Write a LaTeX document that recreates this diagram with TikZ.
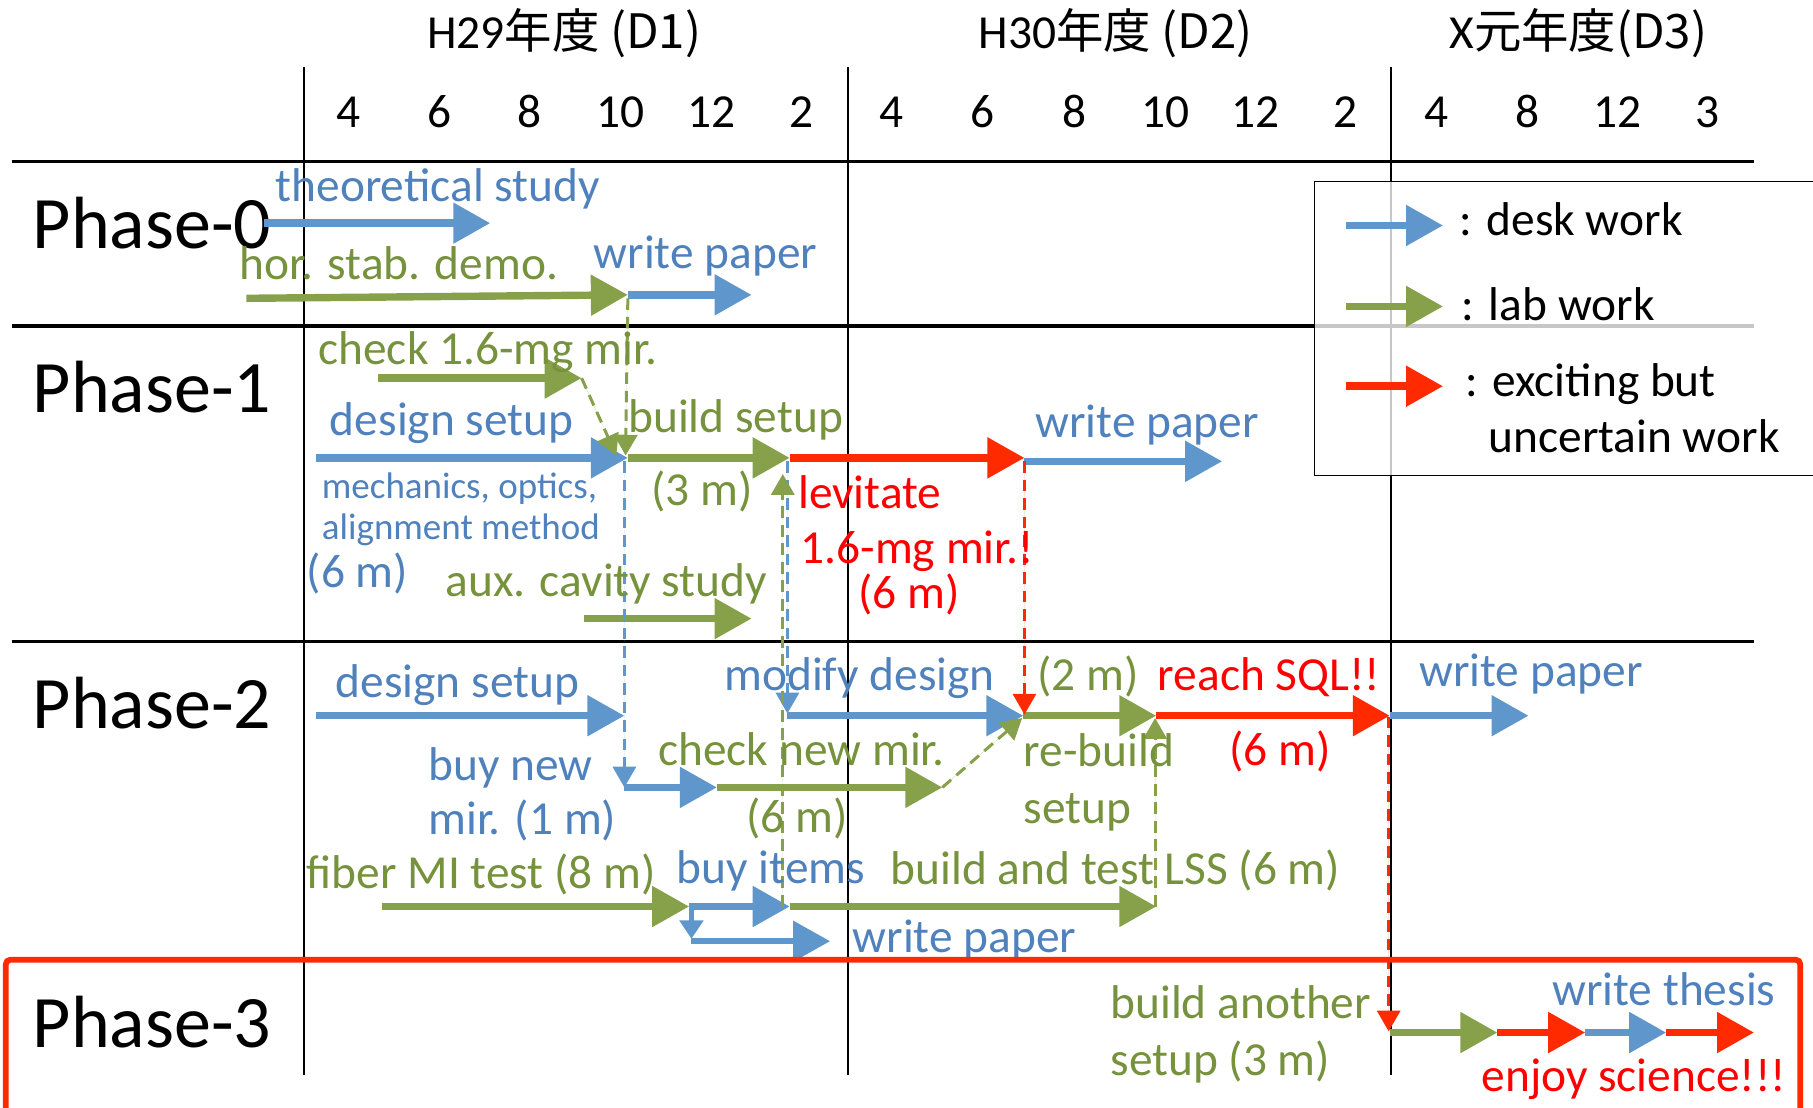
\documentclass[tikz,border=0pt]{standalone}
\usepackage{fontspec}
\setmainfont{Carlito}
\newfontfamily\jpfont{Noto Sans CJK JP}
\usetikzlibrary{arrows.meta}

\definecolor{deskblue}{HTML}{5F96CB}
\definecolor{desktext}{HTML}{4F81BD}
\definecolor{labgreen}{HTML}{87A14A}
\definecolor{labtext}{HTML}{76923C}
\definecolor{hotred}{HTML}{FF2A00}
\definecolor{hottext}{HTML}{FF0000}

\begin{document}
\begin{tikzpicture}[x=0.5pt, y=-0.5pt,
  desk/.style={draw=deskblue, line width=3.2pt, -{Triangle[length=16pt,width=17pt]}},
  lab/.style={draw=labgreen, line width=3.2pt, -{Triangle[length=16pt,width=17pt]}},
  hot/.style={draw=hotred, line width=3.2pt, -{Triangle[length=16pt,width=17pt]}},
  link/.style={line width=1.3pt, dash pattern=on 5pt off 3pt, -{Triangle[length=9pt,width=10pt]}},
  lbl/.style={anchor=base west, inner sep=0pt, font=\fontsize{20.5}{24}\selectfont},
  sml/.style={anchor=base west, inner sep=0pt, font=\fontsize{16}{19}\selectfont},
  head/.style={anchor=base, inner sep=0pt, font=\fontsize{20.5}{24}\selectfont},
  phase/.style={anchor=base west, inner sep=0pt, font=\fontsize{32}{38}\selectfont}]
  \useasboundingbox (0,0) rectangle (1568,958);

  % grid
  \draw[line width=1.4pt] (10,140) -- (1517,140);
  \draw[line width=1.4pt] (10,282) -- (1517,282);
  \draw[line width=1.4pt] (10,555) -- (1517,555);
  \foreach \gx in {263,733,1203}
    \draw[line width=0.9pt] (\gx,58) -- (\gx,930);

  % years and months
  \node[head] (yr1) at (488,42) {H29\jpfont{年度} (D1)};
  \node[head] (yr2) at (965,42) {H30\jpfont{年度} (D2)};
  \node[head] (yr3) at (1365,42) {X\jpfont{元年度}(D3)};
  \foreach \mx/\mn in {301/4,380/6,458/8,537/10,615/12,693/2,
                       771/4,850/6,929/8,1008/10,1086/12,1164/2,
                       1242/4,1321/8,1399/12,1477/3}
    \node[head] at (\mx,110) {\mn};

  \node[phase] (ph0) at (28,215) {Phase-0};
  \node[phase] (ph1) at (28,357) {Phase-1};
  \node[phase] (ph2) at (28,630) {Phase-2};
  \node[phase] (ph3) at (28,906) {Phase-3};

  % Phase-0
  \coordinate (thA) at (228,193);
  \coordinate (thB) at (424,193);
  \coordinate (hsA) at (213,258);
  \coordinate (hsB) at (543,255);
  \coordinate (wpB) at (650,255);
  \draw[desk] (thA) -- (thB);
  \draw[lab] (hsA) -- (hsB);
  \draw[desk] (hsB) -- (wpB);

  % Phase-1
  \coordinate (ckA) at (327,327);
  \coordinate (ckB) at (503,327);
  \coordinate (d1A) at (273,396);
  \coordinate (d1B) at (543,396);
  \coordinate (bsB) at (683,396);
  \coordinate (lvB) at (886,396);
  \coordinate (w1A) at (886,399);
  \coordinate (w1B) at (1057,399);
  \coordinate (axA) at (505,535);
  \coordinate (axB) at (650,535);
  \draw[lab] (ckA) -- (ckB);
  \draw[desk] (d1A) -- (d1B);
  \draw[lab] (d1B) -- (bsB);
  \draw[hot] (bsB) -- (lvB);
  \draw[desk] (w1A) -- (w1B);
  \draw[lab] (axA) -- (axB);

  % Phase-2
  \coordinate (d2A) at (273,619);
  \coordinate (d2B) at (540,619);
  \coordinate (bnA) at (540,681);
  \coordinate (bnB) at (620,681);
  \coordinate (cnB) at (815,681);
  \coordinate (mdA) at (681,619);
  \coordinate (mdB) at (885,619);
  \coordinate (rbB) at (1000,619);
  \coordinate (sqB) at (1202,619);
  \coordinate (w2B) at (1322,619);
  \coordinate (fbA) at (330,784);
  \coordinate (fbB) at (596,784);
  \coordinate (biB) at (683,784);
  \coordinate (btB) at (1000,784);
  \coordinate (brA) at (598,786);
  \coordinate (brB) at (598,812);
  \coordinate (w3A) at (598,814);
  \coordinate (w3B) at (718,814);
  \draw[desk] (d2A) -- (d2B);
  \draw[desk] (bnA) -- (bnB);
  \draw[lab] (bnB) -- (cnB);
  \draw[desk] (mdA) -- (mdB);
  \draw[lab] (mdB) -- (rbB);
  \draw[hot] (rbB) -- (sqB);
  \draw[desk] (sqB) -- (w2B);
  \draw[lab] (fbA) -- (fbB);
  \draw[desk] (fbB) -- (biB);
  \draw[lab] (biB) -- (btB);
  \draw[draw=deskblue, fill=deskblue, line width=2.2pt, -{Triangle[length=8pt,width=10pt]}] (brA) -- (brB);
  \draw[desk, line width=2.8pt] (w3A) -- (w3B);

  % Phase-3
  \coordinate (p3A) at (1202,893);
  \coordinate (p3B) at (1295,893);
  \coordinate (p3C) at (1371,893);
  \coordinate (p3D) at (1441,893);
  \coordinate (p3E) at (1517,893);
  \draw[lab] (p3A) -- (p3B);
  \draw[hot] (p3B) -- (p3C);
  \draw[desk] (p3C) -- (p3D);
  \draw[hot] (p3D) -- (p3E);

  % dependencies
  \draw[link, draw=labgreen, fill=labgreen] (543,258) -- (541,394);
  \draw[link, draw=labgreen, fill=labgreen] (ckB) -- (533,394);
  \draw[link, draw=deskblue, fill=deskblue] (540,399) -- (bnA);
  \draw[link, draw=hotred, fill=hotred] (w1A) -- (886,618);
  \draw[link, draw=deskblue, fill=deskblue] (681,399) -- (681,617);
  \draw[link, draw=labgreen, fill=labgreen] (677,784) -- (677,410);
  \draw[link, draw=labgreen, fill=labgreen] (cnB) -- (884,621);
  \draw[link, draw=labgreen, fill=labgreen] (999,784) -- (999,621);
  \draw[link, draw=hotred, fill=hotred] (1201,620) -- (1201,892);

  % labels
  \node[lbl, desktext] (thL) at (238,174) {theoretical study};
  \node[lbl, labtext] (hsL) at (207,242) {hor. stab. demo.};
  \node[lbl, desktext] (wpL) at (513,232) {write paper};

  \node[lbl, labtext] (ckL) at (275,315) {check 1.6-mg mir.};
  \node[lbl, desktext] (d1L) at (285,377) {design setup};
  \node[sml, desktext] (d1M) at (278,431) {mechanics, optics,};
  \node[sml, desktext] (d1N) at (278,467) {alignment method};
  \node[lbl, desktext] (d1T) at (265,508) {(6 m)};
  \node[lbl, labtext] (bsL) at (543,374) {build setup};
  \node[lbl, labtext] (bsT) at (563,437) {(3 m)};
  \node[lbl, hottext] (lvL) at (690,440) {levitate};
  \node[lbl, hottext] (lvM) at (692,487) {1.6-mg mir.!};
  \node[lbl, hottext] (lvT) at (742,526) {(6 m)};
  \node[lbl, desktext] (w1L) at (895,378) {write paper};
  \node[lbl, labtext] (axL) at (385,516) {aux. cavity study};

  \node[lbl, desktext] (d2L) at (290,603) {design setup};
  \node[lbl, desktext] (bnL) at (370,675) {buy new};
  \node[lbl, desktext] (bnT) at (370,722) {mir. (1 m)};
  \node[lbl, labtext] (cnL) at (569,662) {check new mir.};
  \node[lbl, labtext] (cnT) at (645,720) {(6 m)};
  \node[lbl, desktext] (mdL) at (626,597) {modify design};
  \node[lbl, labtext] (rbT) at (897,597) {(2 m)};
  \node[lbl, labtext] (rbL) at (885,663) {re-build};
  \node[lbl, labtext] (rbM) at (885,712) {setup};
  \node[lbl, hottext] (sqL) at (1001,597) {reach SQL!!};
  \node[lbl, hottext] (sqT) at (1063,662) {(6 m)};
  \node[lbl, desktext] (w2L) at (1227,594) {write paper};
  \node[lbl, labtext] (fbL) at (265,768) {fiber MI test (8 m)};
  \node[lbl, desktext] (biL) at (585,764) {buy items};
  \node[lbl, labtext] (btL) at (770,765) {build and test LSS (6 m)};
  \node[lbl, desktext] (w3L) at (737,824) {write paper};

  \node[lbl, labtext] (p3L) at (960,881) {build another};
  \node[lbl, labtext] (p3M) at (960,930) {setup (3 m)};
  \node[lbl, desktext] (p3W) at (1342,870) {write thesis};
  \node[lbl, hottext] (p3S) at (1281,944) {enjoy science!!!};

  % phase-3 frame
  \draw[hotred, line width=2.5pt, rounded corners=2pt] (5,830) rectangle (1557,990);

  % legend
  \draw[line width=0.6pt, fill=white, fill opacity=0.78] (1137,157) rectangle (1600,411);
  \coordinate (lgA) at (1164,195);
  \coordinate (lgB) at (1248,195);
  \coordinate (lgC) at (1164,265);
  \coordinate (lgD) at (1248,265);
  \coordinate (lgE) at (1164,334);
  \coordinate (lgF) at (1248,334);
  \draw[desk] (lgA) -- (lgB);
  \draw[lab] (lgC) -- (lgD);
  \draw[hot] (lgE) -- (lgF);
  \node[lbl] (lgDesk) at (1262,204) {: desk work};
  \node[lbl] (lgLab) at (1264,277) {: lab work};
  \node[lbl] (lgHot) at (1267,343) {: exciting but};
  \node[lbl] (lgHot2) at (1287,391) {uncertain work};
\end{tikzpicture}
\end{document}
